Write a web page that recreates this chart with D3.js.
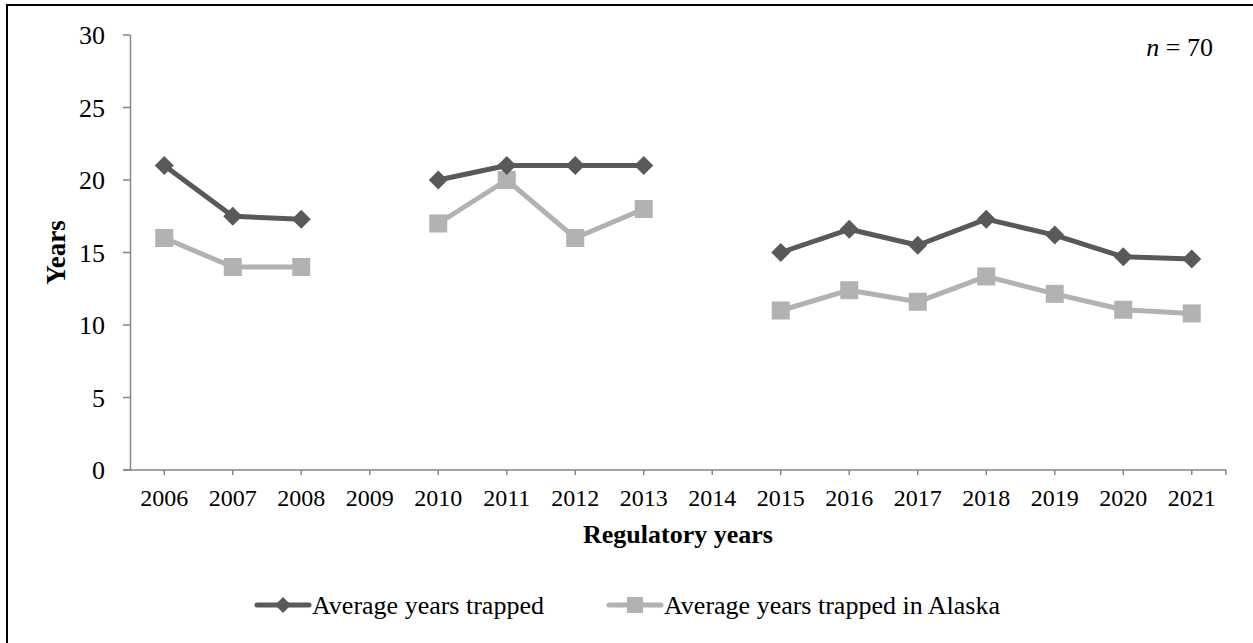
<!DOCTYPE html>
<html><head><meta charset="utf-8">
<script src="https://cdn.jsdelivr.net/npm/d3@7"></script>
<style>
html,body{margin:0;padding:0;background:#fff;}
text{font-family:"Liberation Serif","Times New Roman",serif;fill:#000;}
</style></head>
<body><svg id="c" width="1253" height="643"></svg>
<script>
const years = ["2006","2007","2008","2009","2010","2011","2012","2013","2014","2015","2016","2017","2018","2019","2020","2021"];
const avgTrapped = [21, 17.5, 17.3, null, 20, 21, 21, 21, null, 15, 16.6, 15.5, 17.3, 16.2, 14.7, 14.55];
const avgTrappedAlaska = [16, 14, 14, null, 17, 20, 16, 18, null, 11, 12.4, 11.6, 13.35, 12.15, 11.05, 10.8];
const yTicks = [0, 5, 10, 15, 20, 25, 30];
const seriesNames = ["Average years trapped", "Average years trapped in Alaska"];

const svg = d3.select("#c");
const L = 130, R = 1226, T = 35, B = 470;
const axisColor = "#868686";
const darkC = "#595959", lightC = "#b2b2b2";

// outer border (clipped at right/bottom as in reference)
svg.append("rect").attr("x", 7).attr("y", 5).attr("width", 1260).attr("height", 660)
  .attr("fill", "none").attr("stroke", "#000").attr("stroke-width", 2);

const x = d3.scaleBand().domain(years).range([L, R]);
const y = d3.scaleLinear().domain([0, 30]).range([B, T]);

// y axis
const ya = svg.append("g");
ya.append("line").attr("x1", L + 0.5).attr("x2", L + 0.5).attr("y1", T).attr("y2", B).attr("stroke", axisColor).attr("stroke-width", 1.5);
ya.selectAll("line.t").data(yTicks).join("line").attr("class", "t")
  .attr("x1", L - 7).attr("x2", L).attr("y1", d => y(d)).attr("y2", d => y(d))
  .attr("stroke", axisColor).attr("stroke-width", 1.5);
ya.selectAll("text").data(yTicks).join("text")
  .attr("x", 105).attr("y", d => y(d)).attr("dy", "0.35em").attr("text-anchor", "end")
  .style("font-size", "26px").text(d => d);

// x axis
const xa = svg.append("g");
xa.append("line").attr("x1", L - 7).attr("x2", R).attr("y1", B).attr("y2", B).attr("stroke", axisColor).attr("stroke-width", 1.5);
const xt = years.map(d => x(d) + x.bandwidth() / 2).concat([R]);
xa.selectAll("line.t").data(xt).join("line").attr("class", "t")
  .attr("x1", d => d).attr("x2", d => d).attr("y1", B).attr("y2", B + 5)
  .attr("stroke", axisColor).attr("stroke-width", 1.5);
xa.selectAll("text").data(years).join("text")
  .attr("x", d => x(d) + x.bandwidth() / 2).attr("y", 506).attr("text-anchor", "middle")
  .style("font-size", "24px").text(d => d);

// axis titles
svg.append("text").attr("x", (L + R) / 2).attr("y", 543).attr("text-anchor", "middle")
  .style("font-size", "26px").style("font-weight", "bold").text("Regulatory years");
svg.append("text").attr("transform", `translate(65,${(T + B) / 2}) rotate(-90)`).attr("text-anchor", "middle")
  .style("font-size", "27px").style("font-weight", "bold").text("Years");

// n = 70
const nt = svg.append("text").attr("x", 1213).attr("y", 56).attr("text-anchor", "end").style("font-size", "26px");
nt.append("tspan").style("font-style", "italic").text("n");
nt.append("tspan").text(" = 70");

const cx = (d, i) => x(years[i]) + x.bandwidth() / 2;
const line = d3.line().defined(d => d != null).x((d, i) => cx(d, i)).y(d => y(d));

function drawSeries(vals, color, shape) {
  const g = svg.append("g");
  g.append("path").attr("d", line(vals)).attr("fill", "none").attr("stroke", color)
    .attr("stroke-width", 5).attr("stroke-linejoin", "round");
  const pts = vals.map((v, i) => ({v, i})).filter(d => d.v != null);
  if (shape === "diamond") {
    g.selectAll("path.m").data(pts).join("path").attr("class", "m")
      .attr("d", d => { const X = cx(d.v, d.i), Y = y(d.v), s = 9.5; return `M${X},${Y - s}L${X + s},${Y}L${X},${Y + s}L${X - s},${Y}Z`; })
      .attr("fill", color);
  } else {
    g.selectAll("rect.m").data(pts).join("rect").attr("class", "m")
      .attr("x", d => cx(d.v, d.i) - 9).attr("y", d => y(d.v) - 9).attr("width", 18).attr("height", 18)
      .attr("fill", color);
  }
}
drawSeries(avgTrappedAlaska, lightC, "square");
drawSeries(avgTrapped, darkC, "diamond");

// legend
const lg = svg.append("g");
const legItems = [
  {name: seriesNames[0], color: darkC, shape: "diamond", x0: 257, x1: 309, tx: 312},
  {name: seriesNames[1], color: lightC, shape: "square", x0: 609, x1: 661, tx: 664}
];
const ly = 605;
legItems.forEach(it => {
  lg.append("line").attr("x1", it.x0).attr("x2", it.x1).attr("y1", ly).attr("y2", ly)
    .attr("stroke", it.color).attr("stroke-width", 5).attr("stroke-linecap", "round");
  const mx = (it.x0 + it.x1) / 2;
  if (it.shape === "diamond") {
    const s = 8;
    lg.append("path").attr("d", `M${mx},${ly - s}L${mx + s},${ly}L${mx},${ly + s}L${mx - s},${ly}Z`).attr("fill", it.color);
  } else {
    lg.append("rect").attr("x", mx - 8).attr("y", ly - 8).attr("width", 16).attr("height", 16).attr("fill", it.color);
  }
  lg.append("text").attr("x", it.tx).attr("y", ly).attr("dy", "0.33em").style("font-size", "26px").text(it.name);
});
</script></body></html>
